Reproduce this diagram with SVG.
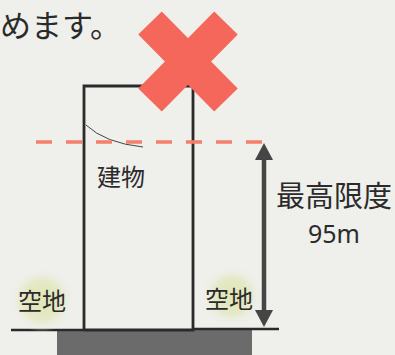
<svg xmlns="http://www.w3.org/2000/svg" width="395" height="355" viewBox="0 0 395 355">
<defs>
<style>
.jp{font-family:"Noto Sans CJK JP","Noto Sans CJK SC",sans-serif;fill:#2b2b2b}
.wall{fill:none;stroke:#2a2a2a;stroke-width:2.8}
.ground{stroke:#2a2a2a;stroke-width:2.6}
.dash{stroke:#f4806c;stroke-width:3.5;stroke-dasharray:16 14}
</style>
<radialGradient id="halo">
<stop offset="0" stop-color="#e0e6b4"/>
<stop offset="0.6" stop-color="#e5e9c6"/>
<stop offset="1" stop-color="#efefeb" stop-opacity="0"/>
</radialGradient>
<marker id="ah" markerUnits="userSpaceOnUse" markerWidth="20" markerHeight="20" viewBox="0 0 20 20" refX="2" refY="10" orient="auto-start-reverse">
<path d="M0,1 L17,10 L0,19 Z" fill="#454545"/>
</marker>
</defs>
<rect width="395" height="355" fill="#efefeb"/>
<g id="caption">
<text class="jp" x="0" y="37" font-size="31">めます。</text>
</g>
<g id="ground">
<rect x="57" y="330" width="195" height="25" fill="#6b6b6b"/>
<line class="ground" x1="11" y1="330" x2="84" y2="330"/>
<line class="ground" x1="193" y1="329" x2="279" y2="329"/>
</g>
<g id="building">
<path class="wall" d="M84,330 V86 H193 V330 H84"/>
<path d="M86,125 Q105,143 143,147" fill="none" stroke="#444" stroke-width="1"/>
<text class="jp" x="97" y="186" font-size="24">建物</text>
</g>
<g id="limit-line">
<line class="dash" x1="36" y1="142" x2="265" y2="142"/>
</g>
<g id="cross">
<path d="M150,23 L226,100 M226,23 L150,100" stroke="#f5675b" stroke-width="33" fill="none"/>
</g>
<g id="open-left">
<circle cx="42" cy="300" r="32" fill="url(#halo)"/>
<text class="jp" x="18" y="310" font-size="24">空地</text>
</g>
<g id="open-right">
<circle cx="232" cy="296" r="30" fill="url(#halo)"/>
<text class="jp" x="205" y="308" font-size="24">空地</text>
</g>
<g id="connectors">
<line x1="264" y1="158" x2="264" y2="312" stroke="#454545" stroke-width="4.5" marker-start="url(#ah)" marker-end="url(#ah)"/>
</g>
<g id="height-label">
<text class="jp" x="276" y="207" font-size="29">最高限度</text>
<text x="334" y="243" font-size="25" text-anchor="middle" font-family="'Noto Sans',sans-serif" fill="#2b2b2b">95m</text>
</g>
</svg>
